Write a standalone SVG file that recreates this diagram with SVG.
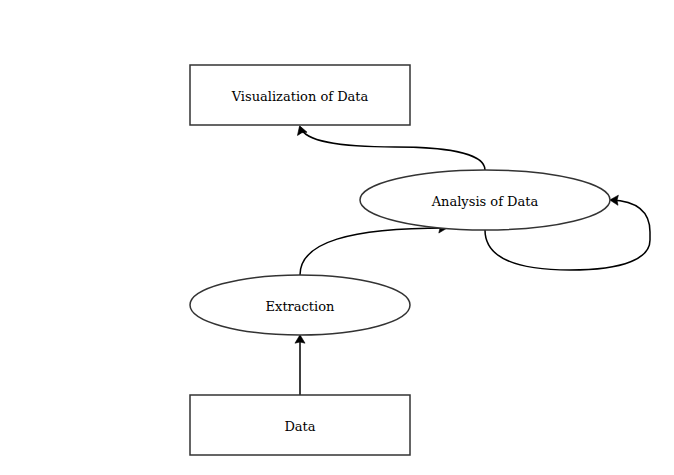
<svg xmlns="http://www.w3.org/2000/svg" width="674" height="475" viewBox="0 0 674 475">
<style>
.n{fill:#fff;stroke:#333;stroke-width:1.5}
.t{font-family:"DejaVu Serif",serif;font-size:13px;fill:#000;text-anchor:middle}
.e{fill:none;stroke:#000;stroke-width:1.5}
</style>
<defs>
<marker id="b" viewBox="0 0 10 10" refX="7" refY="5" markerWidth="12" markerHeight="12" orient="auto" markerUnits="userSpaceOnUse">
<path d="M1,0.8 L8,5 L1,9.2 L2,5 Z" fill="#000" stroke="#000" stroke-width="0.5"/>
</marker>
</defs>
<rect width="674" height="475" fill="#fff"/>
<g id="edges">
<path class="e" d="M485,170 C485,152 440,147 395,147 C340,147 305,142 300,127" marker-end="url(#b)"/>
<path class="e" d="M300,275 C300,242 350,228 446,228" marker-end="url(#b)"/>
<path class="e" d="M485,230 C485,258 515,270 570,270 C625,270 650,258 650,240 L650,232 C650,212 638,201 611,200" marker-end="url(#b)"/>
<path class="e" d="M300,395 L300,336" marker-end="url(#b)"/>
</g>
<g id="visualization">
<rect class="n" x="190" y="65" width="220" height="60"/>
<text class="t" x="300" y="101">Visualization of Data</text>
</g>
<g id="analysis">
<ellipse class="n" cx="485" cy="200" rx="125" ry="30"/>
<text class="t" x="485" y="206">Analysis of Data</text>
</g>
<g id="extraction">
<ellipse class="n" cx="300" cy="305" rx="110" ry="30"/>
<text class="t" x="300" y="311">Extraction</text>
</g>
<g id="data">
<rect class="n" x="190" y="395" width="220" height="60"/>
<text class="t" x="300" y="431">Data</text>
</g>
</svg>
